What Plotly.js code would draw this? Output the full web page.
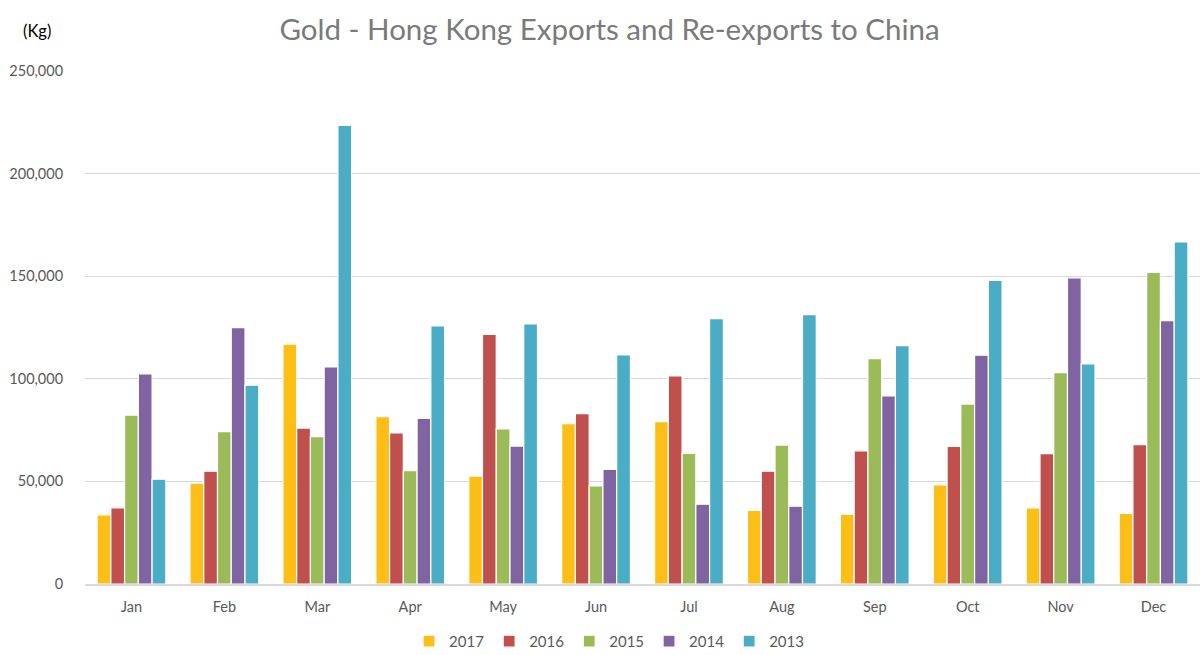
<!DOCTYPE html>
<html>
<head>
<meta charset="utf-8">
<script src="https://cdn.plot.ly/plotly-3.0.1.min.js"></script>
<style>
  html, body { margin: 0; padding: 0; background: #fff; }
  #chart { width: 1200px; height: 655px; }
</style>
</head>
<body>
<div id="chart"></div>
<script>
const months = ["Jan", "Feb", "Mar", "Apr", "May", "Jun", "Jul", "Aug", "Sep", "Oct", "Nov", "Dec"];

// kg
const y2017 = [33700, 49100, 116900, 81500, 52600, 78100, 79100, 35900, 34000, 48300, 37100, 34400];
const y2016 = [37100, 55000, 76000, 73600, 121600, 83000, 101400, 55000, 64900, 67100, 63500, 67900];
const y2015 = [82300, 74300, 71800, 55200, 75600, 47800, 63700, 67700, 109800, 87700, 103000, 151900];
const y2014 = [102400, 124900, 105800, 80700, 67200, 55800, 38900, 37900, 91700, 111500, 149200, 128300];
const y2013 = [51100, 96900, 223500, 125800, 126800, 111700, 129300, 131300, 116200, 147900, 107300, 166700];

const years = ["2017", "2016", "2015", "2014", "2013"];
const colors = ["#FDBF17", "#C0504D", "#9BBB59", "#8064A2", "#4BACC6"];

const series = [y2017, y2016, y2015, y2014, y2013];
const traces = series.map((vals, i) => ({
    type: "bar",
    name: years[i],
    x: months,
    y: vals,
    marker: { color: colors[i], line: { color: "#ffffff", width: 1.2 } },
    hoverinfo: "x+y+name"
}));

const greyText = "#595959";

const layout = {
    width: 1200,
    height: 655,
    font: { family: "Lato, 'Open Sans', sans-serif", size: 14, color: greyText },
    paper_bgcolor: "#ffffff",
    plot_bgcolor: "#ffffff",
    margin: { l: 85, r: 0, t: 71, b: 71, autoexpand: false },
    title: {
        text: "Gold - Hong Kong Exports and Re-exports to China",
        font: { family: "Lato, 'Open Sans', sans-serif", size: 29.5, color: "#7a7a7a" },
        x: 0.508, xanchor: "center",
        y: 0.955, yanchor: "middle"
    },
    barmode: "group",
    bargap: 0.26,
    bargroupgap: 0,
    xaxis: {
        showgrid: false,
        showline: true,
        linecolor: "#d9d9d9",
        linewidth: 1.5,
        ticks: "outside",
        ticklen: 9,
        tickcolor: "rgba(0,0,0,0)",
        tickfont: { size: 14.5, color: greyText },
        fixedrange: true
    },
    yaxis: {
        range: [0, 250000],
        dtick: 50000,
        tickformat: ",d",
        showgrid: true,
        gridcolor: "#d9d9d9",
        gridwidth: 1,
        zeroline: false,
        showline: false,
        ticks: "outside",
        ticklen: 18,
        tickcolor: "rgba(0,0,0,0)",
        tickfont: { size: 14.5, color: greyText },
        fixedrange: true
    },
    showlegend: true,
    legend: {
        orientation: "h",
        x: 0.47, xanchor: "center",
        y: -0.112, yanchor: "middle",
        bgcolor: "rgba(0,0,0,0)",
        font: { size: 15, color: greyText },
        itemwidth: 30,
        traceorder: "normal"
    },
    annotations: [{
        text: "(Kg)",
        xref: "paper", yref: "paper",
        x: -0.043, xanchor: "center",
        y: 1.078, yanchor: "middle",
        showarrow: false,
        font: { size: 16.5, color: "#000000" }
    }]
};

Plotly.newPlot("chart", traces, layout, { displayModeBar: false, staticPlot: true });
</script>
</body>
</html>
